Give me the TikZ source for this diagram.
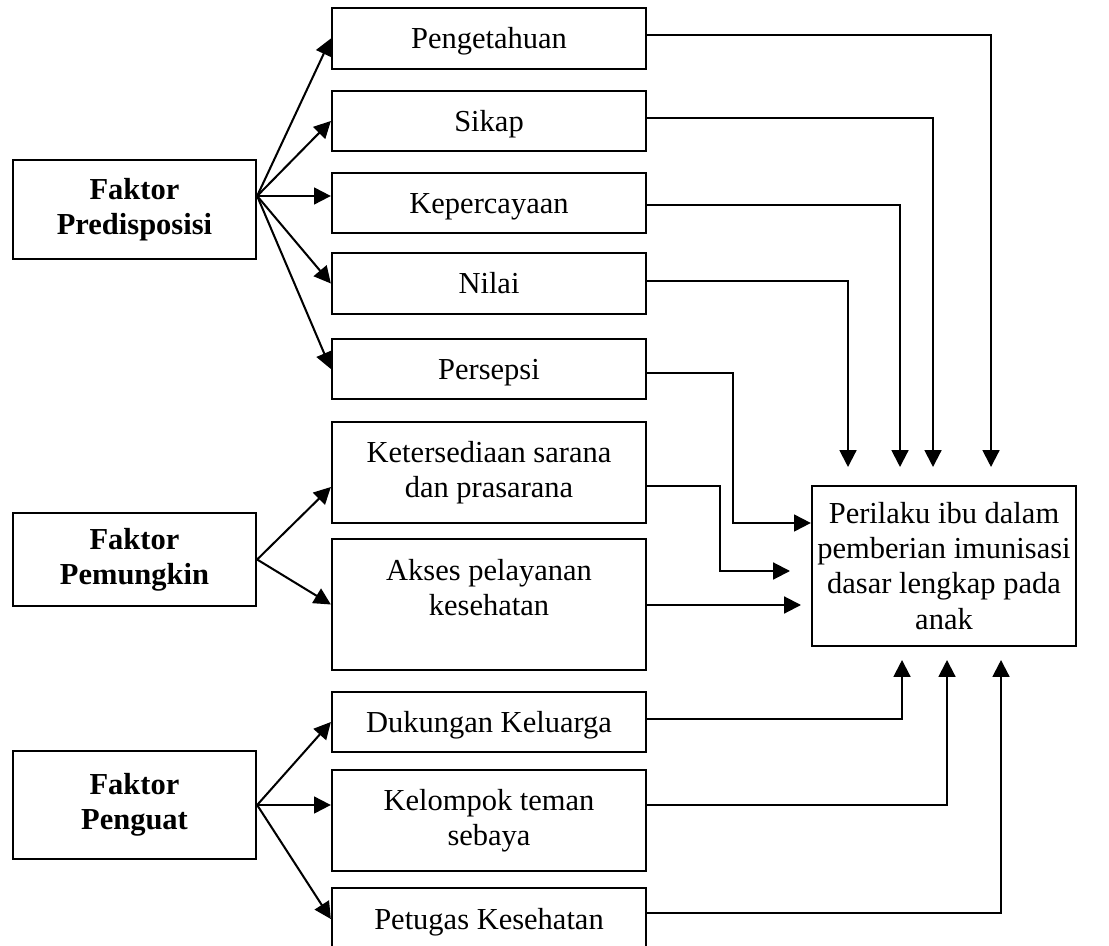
\documentclass[tikz,border=0pt]{standalone}
\usepackage{fontspec}
\setmainfont{Liberation Serif}
\usepackage{tikz}
\usetikzlibrary{arrows.meta}
\definecolor{ink}{HTML}{000000}
\def\u{0.3935pt}
\newcommand{\boxfont}{\fontsize{12}{13.8}\selectfont}

\begin{document}
\begin{tikzpicture}[x=\u,y=-\u,
  every node/.style={font=\boxfont,text=ink,align=center,inner sep=1pt},
  box/.style={draw=ink,line width=0.9pt,minimum width=314*\u},
  oneline/.style={text height=10.7pt,text depth=2.6pt},
  multiline/.style={},
  faktor/.style={draw=ink,line width=0.9pt,minimum width=243*\u,font=\boxfont\bfseries},
  arr/.style={draw=ink,line width=0.8pt,-{Triangle[length=6.6pt,width=6.6pt]}}]
  \useasboundingbox[fill=white] (0,0) rectangle (1109,946);

  % faktor boxes
  \node[faktor,minimum height=99*\u] (pred) at (134.5,209.5) {Faktor\\Predisposisi};
  \node[faktor,minimum height=93*\u] (pem) at (134.5,559.5) {Faktor\\Pemungkin};
  \node[faktor,minimum height=108*\u] (pen) at (134.5,805) {Faktor\\Penguat};

  % middle column
  \foreach \nm/\yy/\hh/\st/\txt in {
    peng/38.5/61/oneline/Pengetahuan,
    sikap/121/60/oneline/Sikap,
    kep/203/60/oneline/Kepercayaan,
    nilai/283.5/61/oneline/Nilai,
    pers/369/60/oneline/Persepsi,
    ket/472.5/101/multiline/{Ketersediaan sarana\\dan prasarana},
    akses/604.5/131/multiline/{Akses pelayanan\\kesehatan\\\mbox{}},
    duk/722/60/oneline/Dukungan Keluarga,
    kel/820.5/101/multiline/{Kelompok teman\\sebaya},
    pet/919/62/oneline/Petugas Kesehatan}
  {
    \node[box,\st,minimum height=\hh*\u] (\nm) at (489,\yy) {\txt};
  }

  % outcome
  \node[box,minimum width=264*\u,minimum height=160*\u] (per) at (944,566)
    {Perilaku ibu dalam\\pemberian imunisasi\\dasar lengkap pada\\anak};

  % fans
  \coordinate (predout) at (pred.east |- 0,196);
  \foreach \t in {peng,sikap,nilai,pers}
    \draw[arr] (predout) -- (\t.west);
  \draw[arr] (predout) -- (kep.west |- predout);
  \draw[arr] (pem.east) -- (ket.west |- 0,487);
  \draw[arr] (pem.east) -- (akses.west);
  \draw[arr] (pen.east) -- (duk.west);
  \draw[arr] (pen.east) -- (kel.west |- pen.east);
  \draw[arr] (pen.east) -- (pet.west);

  % into the outcome, from above
  \foreach \t/\yy/\xx in {peng/35/991, sikap/118/933, kep/205/900, nilai/281/848}
  {
    \coordinate (in-\t) at (\xx,467);
    \draw[arr] (\t.east |- 0,\yy) -| (in-\t);
  }
  \draw[arr] (pers.east |- 0,373) -| (733,523) -- (per.west |- 0,523);
  \coordinate (in-ket) at (790,571);
  \draw[arr] (ket.east |- 0,486) -| (720,571) -- (in-ket);
  \coordinate (in-akses) at (801,605);
  \draw[arr] (akses.east |- 0,605) -- (in-akses);

  % from below
  \foreach \t/\yy/\xx in {duk/719/902, kel/805/947, pet/913/1001}
  {
    \coordinate (in-\t) at (\xx,660);
    \draw[arr] (\t.east |- 0,\yy) -| (in-\t);
  }
\end{tikzpicture}
\end{document}
